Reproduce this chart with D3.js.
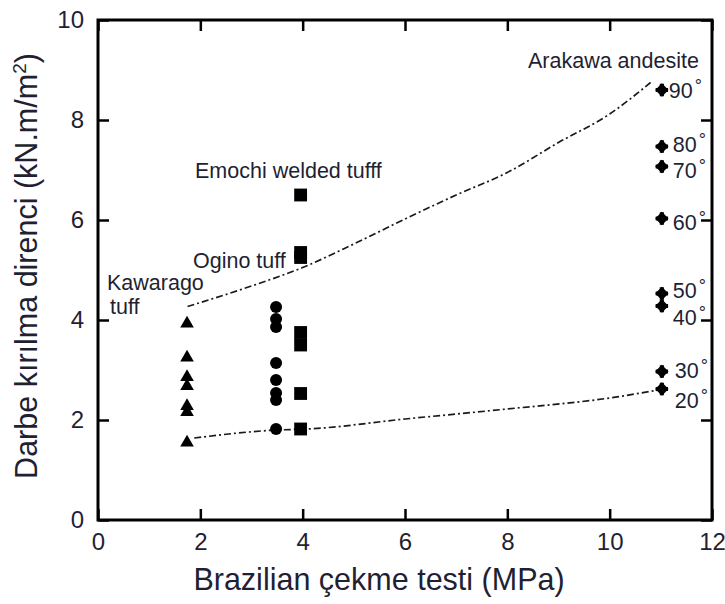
<!DOCTYPE html>
<html>
<head>
<meta charset="utf-8">
<script src="https://cdn.jsdelivr.net/npm/d3@7"></script>
<style>
  html, body { margin: 0; padding: 0; background: #fff; }
  svg { display: block; }
  text { font-family: "Liberation Sans", Arial, sans-serif; fill: #231f33; }
</style>
</head>
<body>
<div id="chart"></div>
<script>
// Rock groups: Brazilian tensile strength (MPa) vs impact fracture resistance (kN.m/m²)
const kawaragoX = 1.74;
const kawaragoY = [3.95, 3.27, 2.88, 2.7, 2.3, 2.18, 1.57];

const oginoX = 3.48;
const oginoY = [4.26, 4.02, 3.86, 3.14, 2.8, 2.54, 2.4, 1.82];

const emochiX = 3.96;
const emochiY = [6.5, 5.35, 5.25, 3.75, 3.5, 2.53, 1.82];

const arakawaX = 11.02;
const arakawaY = [8.6, 7.47, 7.07, 6.03, 4.53, 4.28, 2.97, 2.62];
const arakawaAngles = ["90", "80", "70", "60", "50", "40", "30", "20"];

// Upper and lower bounding trend curves
const upperCurve = [[1.75, 4.27], [3.0, 4.68], [4.0, 5.05], [5.0, 5.52], [6.0, 6.02],
                    [7.0, 6.5], [8.0, 6.95], [9.0, 7.55], [10.0, 8.12], [10.8, 8.75]];
const lowerCurve = [[1.88, 1.64], [3.5, 1.8], [4.1, 1.82], [6.0, 2.02], [8.0, 2.22],
                    [10.0, 2.44], [10.95, 2.6]];

const xTicks = [0, 2, 4, 6, 8, 10, 12];
const yTicks = [0, 2, 4, 6, 8, 10];

const groupLabels = [
  { lines: ["Kawarago", "tuff"], x: 107, y: 290 },
  { lines: ["Ogino tuff"], x: 193, y: 268 },
  { lines: ["Emochi welded tufff"], x: 195, y: 178 },
  { lines: ["Arakawa andesite"], x: 528, y: 68 }
];
// angle label placement relative to each marker (px)
const angleLabelDx = [7, 11, 11, 11, 11, 11, 13, 13];
const angleLabelDy = [8, 5.5, 11.5, 11.5, 4.5, 19, 6.5, 19];

const W = 725, H = 604;
const L = 98, R = 712, T = 20, B = 520;

const svg = d3.select("#chart").append("svg")
  .attr("width", W).attr("height", H);

svg.append("rect").attr("width", W).attr("height", H).attr("fill", "#fff");

const x = d3.scaleLinear().domain([0, 12]).range([L, R]);
const y = d3.scaleLinear().domain([0, 10]).range([B, T]);

// Axes with inward ticks on all four sides
function styleAxis(g) {
  g.select(".domain").remove();
  g.selectAll(".tick line").attr("stroke", "#000").attr("stroke-width", 2.5);
  g.selectAll(".tick text").style("font-size", "24px").attr("fill", "#231f33");
}

svg.append("g").attr("transform", `translate(0,${B})`)
  .call(d3.axisBottom(x).tickValues(xTicks).tickSizeInner(-11).tickSizeOuter(0).tickPadding(13))
  .call(styleAxis);
svg.append("g").attr("transform", `translate(${L},0)`)
  .call(d3.axisLeft(y).tickValues(yTicks).tickSizeInner(-11).tickSizeOuter(0).tickPadding(14))
  .call(styleAxis);
svg.append("g").attr("transform", `translate(0,${T})`)
  .call(d3.axisTop(x).tickValues(xTicks).tickSizeInner(-11).tickSizeOuter(0).tickFormat(""))
  .call(styleAxis);
svg.append("g").attr("transform", `translate(${R},0)`)
  .call(d3.axisRight(y).tickValues(yTicks).tickSizeInner(-11).tickSizeOuter(0).tickFormat(""))
  .call(styleAxis);

// Frame
svg.append("rect")
  .attr("x", L).attr("y", T).attr("width", R - L).attr("height", B - T)
  .attr("fill", "none").attr("stroke", "#000").attr("stroke-width", 3);

// Trend curves
const line = d3.line().x(d => x(d[0])).y(d => y(d[1])).curve(d3.curveMonotoneX);
[upperCurve, lowerCurve].forEach(c => {
  svg.append("path").attr("d", line(c))
    .attr("fill", "none").attr("stroke", "#1a1a1a")
    .attr("stroke-width", 1.7).attr("stroke-dasharray", "7,3,2,3");
});

// Markers
const tri = d3.symbol().type(d3.symbolTriangle).size(80);
svg.append("g").selectAll("path").data(kawaragoY).join("path")
  .attr("d", tri).attr("transform", d => `translate(${x(kawaragoX)},${y(d) + 1})`)
  .attr("fill", "#000");

svg.append("g").selectAll("circle").data(oginoY).join("circle")
  .attr("cx", x(oginoX)).attr("cy", d => y(d)).attr("r", 6).attr("fill", "#000");

const sq = d3.symbol().type(d3.symbolSquare).size(165);
svg.append("g").selectAll("path").data(emochiY).join("path")
  .attr("d", sq).attr("transform", d => `translate(${x(emochiX)},${y(d)})`)
  .attr("fill", "#000");

const dia = d3.symbol().type(d3.symbolSquare).size(88);
const cross = d3.symbol().type(d3.symbolCross).size(85);
const ag = svg.append("g").selectAll("g").data(arakawaY).join("g")
  .attr("transform", d => `translate(${x(arakawaX)},${y(d)})`);
ag.append("path").attr("d", dia).attr("transform", "rotate(45)").attr("fill", "#000");
ag.append("path").attr("d", cross).attr("fill", "#000");

// Angle labels
const al = svg.append("g").selectAll("text").data(arakawaY).join("text")
  .attr("x", (d, i) => x(arakawaX) + angleLabelDx[i])
  .attr("y", (d, i) => y(d) + angleLabelDy[i])
  .style("font-size", "21.5px");
al.append("tspan").text((d, i) => arakawaAngles[i]);
al.append("tspan").attr("dx", 2).attr("dy", -6).style("font-size", "18px").text("°");

// Group labels
groupLabels.forEach(g => {
  const t = svg.append("text").attr("x", g.x).attr("y", g.y).style("font-size", "21.5px");
  g.lines.forEach((s, i) => {
    t.append("tspan").attr("x", g.x + (i ? 3 : 0)).attr("dy", i ? 24 : 0).text(s);
  });
});

// Axis titles
svg.append("text")
  .attr("x", 379).attr("y", 590).attr("text-anchor", "middle")
  .style("font-size", "30.5px")
  .text("Brazilian çekme testi (MPa)");

const yt = svg.append("text")
  .attr("transform", "translate(37,266) rotate(-90)")
  .attr("text-anchor", "middle")
  .style("font-size", "30.5px");
yt.append("tspan").text("Darbe kırılma direnci (kN.m/m");
yt.append("tspan").attr("dy", -11).style("font-size", "19px").text("2");
yt.append("tspan").attr("dy", 11).text(")");
</script>
</body>
</html>
